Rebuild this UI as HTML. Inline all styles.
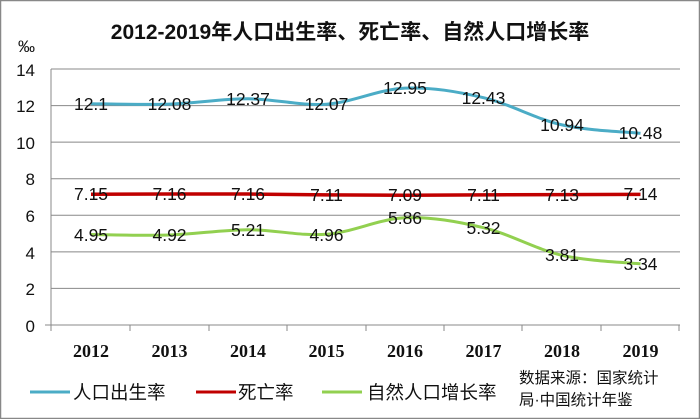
<!DOCTYPE html>
<html><head><meta charset="utf-8"><style>
body{margin:0;background:#fff}
svg{display:block}
text{font-family:"Liberation Sans","Noto Sans CJK SC",sans-serif}
text.yr{font-family:"Liberation Serif",serif;font-weight:bold}
</style></head><body>
<svg width="700" height="419" viewBox="0 0 700 419">
<rect x="0.5" y="0.5" width="699" height="418" fill="#fff" stroke="#888" stroke-width="1.5"/>
<text x="350" y="39" text-anchor="middle" font-size="21" font-weight="bold" fill="#111">2012-2019年人口出生率、死亡率、自然人口增长率</text>
<text x="18" y="52" font-size="17" fill="#111">‰</text>
<g stroke="#888" stroke-width="1">
<line x1="51" y1="69" x2="680" y2="69"/><line x1="51" y1="105.6" x2="680" y2="105.6"/>
<line x1="51" y1="142.1" x2="680" y2="142.1"/><line x1="51" y1="178.7" x2="680" y2="178.7"/>
<line x1="51" y1="215.3" x2="680" y2="215.3"/><line x1="51" y1="251.9" x2="680" y2="251.9"/>
<line x1="51" y1="288.4" x2="680" y2="288.4"/><line x1="45" y1="325" x2="680" y2="325"/>
<line x1="51" y1="69" x2="51" y2="325"/>
<line x1="51" y1="325" x2="51" y2="331"/><line x1="130" y1="325" x2="130" y2="331"/><line x1="209" y1="325" x2="209" y2="331"/><line x1="287" y1="325" x2="287" y2="331"/><line x1="366" y1="325" x2="366" y2="331"/><line x1="444" y1="325" x2="444" y2="331"/><line x1="522" y1="325" x2="522" y2="331"/><line x1="601" y1="325" x2="601" y2="331"/><line x1="679" y1="325" x2="679" y2="331"/>
</g>
<g font-size="17" fill="#111" text-anchor="end">
<text x="35" y="76">14</text><text x="35" y="112">12</text><text x="35" y="149">10</text><text x="35" y="185">8</text><text x="35" y="222">6</text><text x="35" y="259">4</text><text x="35" y="295">2</text><text x="35" y="332">0</text>
</g>
<g font-size="18" fill="#111" text-anchor="middle">
<text class="yr" x="91" y="357">2012</text><text class="yr" x="169.5" y="357">2013</text><text class="yr" x="248" y="357">2014</text><text class="yr" x="326.5" y="357">2015</text><text class="yr" x="405" y="357">2016</text><text class="yr" x="483.5" y="357">2017</text><text class="yr" x="562" y="357">2018</text><text class="yr" x="640.5" y="357">2019</text>
</g>
<path d="M91,103.7 C104.1,103.8 143.3,104.9 169.5,104.1 C195.7,103.3 221.8,98.8 248,98.8 C274.2,98.8 300.3,106 326.5,104.2 C352.7,102.4 378.8,89.2 405,88.1 C431.2,87 457.3,91.6 483.5,97.7 C509.7,103.8 535.8,119 562,124.9 C588.2,130.8 627.4,131.9 640.5,133.3" fill="none" stroke="#4bacc6" stroke-width="3"/>
<polyline points="91,194.2 169.5,194 248,194 326.5,194.9 405,195.3 483.5,194.9 562,194.6 640.5,194.4" fill="none" stroke="#c00000" stroke-width="3.5"/>
<path d="M91,234.5 C104.1,234.6 143.3,235.8 169.5,235 C195.7,234.2 221.8,229.8 248,229.7 C274.2,229.6 300.3,236.3 326.5,234.3 C352.7,232.3 378.8,218.9 405,217.8 C431.2,216.7 457.3,221.5 483.5,227.7 C509.7,233.9 535.8,249.3 562,255.3 C588.2,261.3 627.4,262.5 640.5,263.9" fill="none" stroke="#92d050" stroke-width="3"/>
<g font-size="17.5" fill="#111" text-anchor="middle">
<text x="91" y="110">12.1</text><text x="169.5" y="110">12.08</text><text x="248" y="105">12.37</text><text x="326.5" y="110">12.07</text><text x="405" y="94">12.95</text><text x="483.5" y="104">12.43</text><text x="562" y="131">10.94</text><text x="640.5" y="139">10.48</text>
<text x="91" y="200">7.15</text><text x="169.5" y="200">7.16</text><text x="248" y="200">7.16</text><text x="326.5" y="201">7.11</text><text x="405" y="201">7.09</text><text x="483.5" y="201">7.11</text><text x="562" y="201">7.13</text><text x="640.5" y="200">7.14</text>
<text x="91" y="241">4.95</text><text x="169.5" y="241">4.92</text><text x="248" y="236">5.21</text><text x="326.5" y="241">4.96</text><text x="405" y="224">5.86</text><text x="483.5" y="234">5.32</text><text x="562" y="261">3.81</text><text x="640.5" y="270">3.34</text>
</g>
<line x1="30" y1="392" x2="70" y2="392" stroke="#4bacc6" stroke-width="3"/>
<text x="73" y="399" font-size="18.5" fill="#111">人口出生率</text>
<line x1="196" y1="392" x2="236" y2="392" stroke="#c00000" stroke-width="3"/>
<text x="238" y="399" font-size="18.5" fill="#111">死亡率</text>
<line x1="322" y1="392" x2="362" y2="392" stroke="#92d050" stroke-width="3"/>
<text x="367" y="399" font-size="18.5" fill="#111">自然人口增长率</text>
<text x="519" y="383" font-size="15.5" fill="#111">数据来源：国家统计</text>
<text x="519" y="405" font-size="15.5" fill="#111">局·中国统计年鉴</text>
</svg>
</body></html>
